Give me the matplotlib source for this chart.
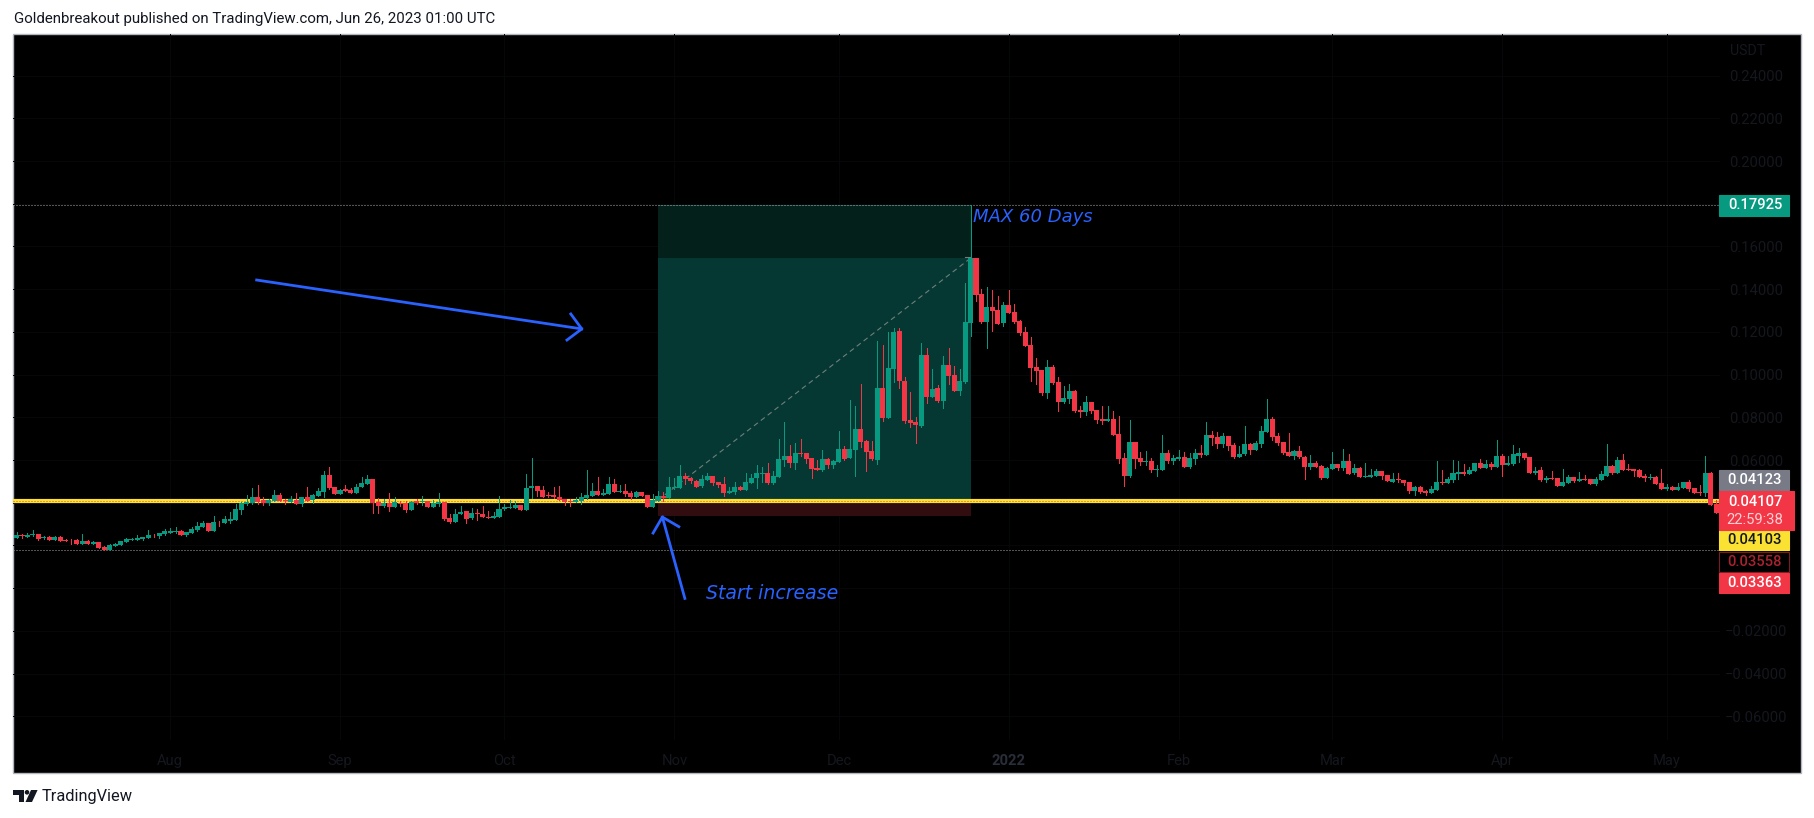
# TradingView style daily candles
import numpy as np
import matplotlib
matplotlib.use("Agg")
import matplotlib.pyplot as plt
from matplotlib.patches import Rectangle, Polygon, Circle

# prices in units of 0.0001 USDT, one entry per day starting 4 Jul 2021
opens = [237,251,241,248,255,234,241,227,241,227,
         227,227,209,223,209,218,195,178,199,204,
         218,227,227,232,237,251,246,255,260,265,
         270,251,260,274,288,307,270,312,307,316,
         321,368,396,401,429,415,401,410,438,415,
         405,415,396,429,415,433,452,532,476,443,
         466,461,447,476,490,513,405,387,401,382,
         401,401,368,410,405,410,382,396,405,330,
         312,345,363,330,354,349,332,330,335,373,
         377,377,391,368,471,480,461,438,438,429,
         419,410,405,410,424,433,457,438,443,490,
         452,457,447,429,452,438,382,410,433,424,
         471,471,527,518,504,480,508,527,499,490,
         447,452,476,461,494,518,536,541,494,522,
         602,621,588,635,635,611,564,555,607,578,
         593,653,611,649,747,691,644,602,939,798,
         1028,1206,972,789,780,761,1093,897,939,878,
         1046,1000,925,967,1243,1547,1379,1248,1318,1304,
         1243,1327,1295,1252,1201,1140,1037,1023,915,1037,
         967,873,887,925,836,827,873,836,794,784,
         794,724,611,527,686,611,593,597,555,555,
         635,597,607,616,569,607,635,625,719,710,
         677,714,672,616,630,677,649,677,733,794,
         714,686,639,621,644,616,569,588,574,518,
         560,583,564,597,541,564,522,522,527,550,
         532,499,513,508,499,457,476,457,447,461,
         499,494,508,536,546,536,550,588,564,583,
         569,621,578,583,621,635,616,541,555,508,
         518,518,480,494,522,504,513,513,490,508,
         527,574,541,602,560,560,555,527,518,522,
         494,466,476,461,471,499,471,452,447,541,396]
closes = [251,243,251,255,232,241,227,241,223,223,
          226,209,223,209,218,190,178,204,209,223,
          232,232,237,241,251,248,260,267,270,270,
          251,265,279,293,307,270,312,309,326,326,
          373,401,405,429,405,401,415,438,410,410,
          419,396,429,410,438,457,532,469,443,462,
          457,447,476,494,513,401,387,401,382,405,
          396,368,405,401,410,382,401,405,326,312,
          349,359,326,354,345,335,330,340,373,382,
          382,391,368,471,480,457,429,433,429,415,
          405,405,415,429,438,457,438,447,490,452,
          457,443,429,452,433,382,415,433,424,476,
          476,527,511,504,476,513,527,494,485,447,
          457,476,461,499,518,541,541,494,527,607,
          621,588,635,630,607,560,555,607,578,597,
          653,607,653,747,686,639,607,939,798,1032,
          1201,972,784,775,766,1093,897,934,878,1046,
          995,925,972,1248,1547,1374,1248,1318,1299,1238,
          1327,1290,1248,1196,1135,1032,1018,915,1037,962,
          873,892,925,831,827,873,831,789,784,794,
          719,607,527,686,607,593,597,555,560,635,
          597,611,616,569,611,635,625,719,705,677,
          714,667,616,630,677,649,681,738,794,710,
          681,635,621,644,616,569,588,569,518,564,
          583,564,597,536,564,522,527,532,550,527,
          504,513,508,494,457,476,452,447,466,499,
          494,513,541,546,536,555,588,564,583,569,
          621,578,588,630,635,611,541,550,508,518,
          513,480,499,522,504,513,508,490,513,536,
          574,541,602,555,555,550,522,518,522,490,
          466,476,461,476,499,466,447,447,541,391,354]
highs = [265,255,259,274,255,246,246,244,246,230,
         232,232,255,227,223,218,199,209,213,223,
         237,237,251,241,274,255,260,279,284,288,
         274,265,288,312,316,307,340,316,340,359,
         396,405,438,471,485,429,419,462,447,419,
         433,447,429,476,443,471,550,569,476,465,
         485,471,490,520,532,513,424,419,447,429,
         410,410,410,419,433,410,415,447,405,345,
         373,387,363,377,373,387,363,359,433,396,
         415,410,391,536,611,480,480,452,476,480,
         419,419,429,447,555,494,522,466,522,513,
         485,490,457,457,452,438,443,457,452,522,
         518,578,541,522,508,532,541,527,499,522,
         476,499,480,541,536,578,569,588,550,700,
         780,672,681,700,635,611,602,649,611,602,
         738,667,883,855,958,695,691,1159,1140,1201,
         1220,1220,990,920,803,1149,1126,1028,953,1089,
         1126,1042,1028,1430,1792,1547,1402,1412,1397,1369,
         1341,1397,1332,1257,1224,1178,1079,1023,1070,1046,
         990,948,958,929,855,901,873,836,855,855,
         831,808,635,789,686,639,644,611,578,719,
         649,625,649,639,635,653,672,780,738,733,
         728,714,681,667,761,681,691,761,887,803,
         728,686,728,649,667,621,625,597,578,569,
         639,583,653,630,583,569,588,560,560,550,
         532,541,541,508,499,480,480,461,480,597,
         555,522,602,597,583,569,588,607,602,593,
         695,630,621,672,658,635,616,569,569,527,
         550,518,560,532,522,546,532,513,522,550,
         677,578,616,630,583,560,560,536,536,527,
         560,490,480,494,499,508,471,485,621,546,415]
lows = [237,234,241,246,227,229,227,227,223,223,
        209,209,209,209,209,190,178,178,199,204,
        218,227,227,227,237,241,237,251,260,260,
        251,246,260,270,288,270,270,293,307,307,
        321,349,391,396,396,391,391,410,410,396,
        405,396,387,410,401,433,429,465,443,443,
        457,447,447,476,490,354,354,382,363,382,
        387,359,368,396,391,382,382,387,321,307,
        312,345,307,326,321,335,330,330,335,368,
        377,377,368,368,424,433,429,429,424,415,
        391,387,405,396,419,433,438,438,443,452,
        452,433,419,426,433,382,382,410,410,424,
        466,471,490,494,476,476,508,485,476,433,
        447,443,461,461,494,471,499,490,490,522,
        574,569,560,621,588,518,555,550,564,564,
        593,602,611,527,663,550,602,583,784,798,
        967,939,775,756,681,756,869,897,873,845,
        958,925,906,962,1182,1346,1243,1126,1206,1238,
        1229,1290,1243,1187,1135,972,958,906,892,958,
        831,869,869,827,803,812,822,775,770,784,
        719,588,480,522,564,578,578,546,527,555,
        588,583,602,569,564,583,616,625,672,658,
        663,649,611,616,625,630,649,663,733,695,
        672,630,621,607,611,513,560,569,513,518,
        560,555,555,536,536,522,522,522,527,513,
        504,499,499,485,447,438,447,438,447,461,
        490,494,499,513,532,536,550,564,564,560,
        569,527,578,578,593,607,541,536,504,499,
        513,480,480,494,499,504,508,490,485,508,
        527,536,541,555,555,527,522,504,513,490,
        466,461,461,461,471,457,447,438,433,391,354]

month_labels = ["Aug", "Sep", "Oct", "Nov", "Dec", "2022", "Feb", "Mar", "Apr", "May"]
month_days = [28, 59, 89, 120, 150, 181, 212, 240, 271, 301]
price_ticks = [0.24, 0.22, 0.20, 0.18, 0.16, 0.14, 0.12, 0.10, 0.08, 0.06, 0.04,
               0.02, 0.0, -0.02, -0.04, -0.06]
# these tick labels sit under the price tags
hidden_ticks = [0.18, 0.04, 0.02, 0.0]

support = 0.04103
low_level = 0.0178
target = 0.17925
entry = 0.04123
stop = 0.03363
tool_close = 0.1547
tool_days = [117, 174.1]

GREEN = "#089981"
RED = "#F23645"
BLUE = "#2962FF"
YELLOW = "#FBE132"
FAINT = "#15171e"

opens = np.array(opens) / 10000
closes = np.array(closes) / 10000
highs = np.array(highs) / 10000
lows = np.array(lows) / 10000
days = np.arange(len(opens))
colors = np.where(closes >= opens, GREEN, RED)

plt.rcParams["font.family"] = ["Roboto", "DejaVu Sans"]
W, H = 1814, 818
fig = plt.figure(figsize=(W / 100, H / 100), dpi=100, facecolor="white")

# black pane behind everything, axis labels sit inside it
fig.add_artist(Rectangle((13 / W, 1 - 773 / H), 1788 / W, 739 / H, transform=fig.transFigure,
                         facecolor="black", edgecolor="#b2b5be", linewidth=1, zorder=-5))

ax = fig.add_axes([13 / W, 1 - 740 / H, 1707 / W, 706 / H], facecolor="none")
ax.set_xlim(-0.64, 310.7)
ax.set_ylim(-0.0711, 0.2595)
for s in ax.spines.values():
    s.set_visible(False)

tick_text = ["" if p in hidden_ticks else f"{p:.5f}".replace("-", "\u2212") for p in price_ticks]
ax.set_xticks(month_days, month_labels)
ax.set_yticks(price_ticks, tick_text)
ax.yaxis.tick_right()
ax.tick_params(axis="both", length=0, colors=FAINT, labelsize=10.6)
ax.tick_params(axis="x", pad=10)
ax.tick_params(axis="y", pad=26)
for lab in ax.get_yticklabels():
    lab.set_horizontalalignment("center")
ax.get_xticklabels()[5].set_color("#2a2e39")
ax.get_xticklabels()[5].set_fontweight("bold")
ax.grid(True, color="#060709", linewidth=0.72)
ax.set_axisbelow(True)

# long position tool
ax.fill_between(tool_days, entry, target, color="#04201b", linewidth=0, zorder=1)
ax.fill_between(tool_days, entry, tool_close, color="#053832", linewidth=0, zorder=1.1)
ax.fill_between(tool_days, stop, support, color="#320d10", linewidth=0, zorder=1.1)
ax.plot(tool_days, [entry, entry], color="#7d9a92", linewidth=1, zorder=1.2)
ax.plot(tool_days, [entry, tool_close], color="#6f7f7b", linewidth=0.8, dashes=(4.5, 3.3), zorder=1.3)
ax.plot([173, 174], [tool_close + 0.0004, tool_close + 0.0004], color="#6f7f7b", linewidth=0.8, zorder=1.3)
ax.plot(tool_days, [target, target], color="#0d3a32", linewidth=0.72, zorder=1.2)

# horizontal levels
ax.axhline(target, color="#a8a8a8", linewidth=0.72, dashes=(1, 2), zorder=1.2)
ax.axhline(low_level, color="#a8a8a8", linewidth=0.72, dashes=(1, 2), zorder=1.2)
ax.axhline(support, color=YELLOW, linewidth=3, zorder=1.5)
ax.axhline(support, color="#e0502a", linewidth=0.72, dashes=(1, 2), zorder=1.6)

# candles
ax.vlines(days, lows, highs, colors=colors, linewidth=0.72, zorder=2, antialiased=False)
ax.bar(days, closes - opens, width=0.92, bottom=opens, color=colors, linewidth=0, zorder=2.1,
       antialiased=False)

# drawings
ax.plot([43.8, 103.1], [0.1443, 0.1214], color=BLUE, linewidth=2, zorder=3)
ax.plot([101.1, 103.1, 100.4], [0.1284, 0.1214, 0.1162], color=BLUE, linewidth=2, zorder=3)
ax.plot([121.9, 117.8], [-0.0048, 0.0333], color=BLUE, linewidth=2, zorder=3)
ax.plot([116.1, 117.8, 120.8], [0.0258, 0.0333, 0.0288], color=BLUE, linewidth=2, zorder=3)
ax.text(125.7, -0.0023, "Start increase", color=BLUE, family="DejaVu Sans", style="italic",
        fontsize=13.6, va="center", ha="left", zorder=3)
ax.text(174.5, 0.174, "MAX 60 Days", color=BLUE, family="DejaVu Sans", style="italic",
        fontsize=13, va="center", ha="left", zorder=3)

# overlay in pixels for the header, footer and price tags
over = fig.add_axes([0, 0, 1, 1], facecolor="none")
over.set_xlim(0, W)
over.set_ylim(H, 0)
over.axis("off")

over.text(14, 19.5, "Goldenbreakout published on TradingView.com, Jun 26, 2023 01:00 UTC",
          color="#131722", fontsize=10.85, va="center", ha="left")
over.text(42, 797, "TradingView", color="#131722", fontsize=11.8, va="center", ha="left")

logo = "#131722"
over.add_patch(Polygon([(13.4, 790), (24, 790), (24, 802), (18.5, 802), (18.5, 795), (13.4, 795)],
                       facecolor=logo, edgecolor="none"))
over.add_patch(Circle((27, 792.3), 2.3, facecolor=logo, edgecolor="none"))
over.add_patch(Polygon([(31, 790), (37.6, 790), (32, 802), (25.5, 802)], facecolor=logo, edgecolor="none"))

tags = [("0.17925", 195, 215.5, 1789, GREEN, "white", GREEN),
        ("0.04123", 469.5, 490, 1789, "#787b86", "white", "#787b86"),
        ("0.04103", 530, 550, 1789, YELLOW, "#131722", YELLOW),
        ("0.03558", 551.5, 571.5, 1789, "black", "#a8232f", "#7a1c25"),
        ("0.03363", 572.5, 593, 1789, RED, "white", RED)]
for text, top, bottom, right, face, ink, edge in tags:
    over.add_patch(Rectangle((1719, top), right - 1719, bottom - top, facecolor=face, edgecolor=edge,
                             linewidth=0.8))
    over.text(1755, (top + bottom) / 2, text, color=ink, fontsize=10.6, weight="medium",
              va="center", ha="center")

over.add_patch(Rectangle((1719, 491), 75, 38.5, facecolor=RED, edgecolor=RED, linewidth=0.8))
over.text(1755, 501.5, "0.04107", color="white", fontsize=10.6, weight="medium", va="center", ha="center")
over.text(1755, 519.5, "22:59:38", color="#fbd0d4", fontsize=10.6, va="center", ha="center")
over.text(1748, 51, "USDT", color=FAINT, fontsize=10.2, va="center", ha="center")

fig.savefig("out.png", dpi=100, facecolor="white")
